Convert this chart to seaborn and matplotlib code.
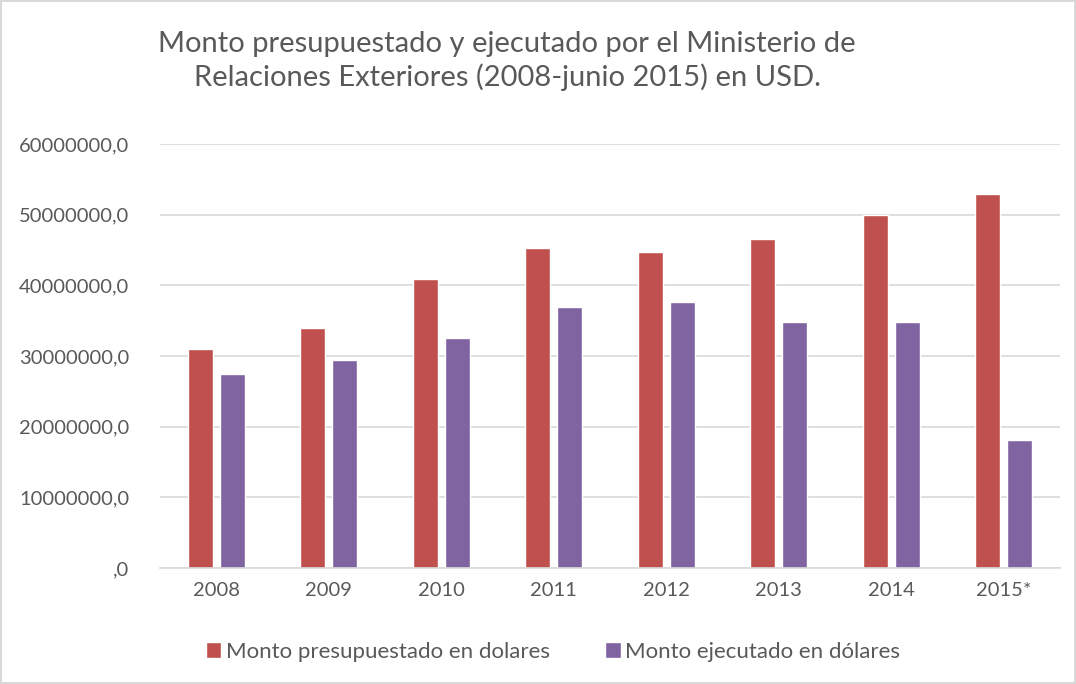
import matplotlib
matplotlib.use('Agg')
import matplotlib.pyplot as plt
from matplotlib.ticker import FuncFormatter
import seaborn as sns
import pandas as pd

# data
years = ["2008", "2009", "2010", "2011", "2012", "2013", "2014", "2015*"]
presupuestado = [31000000, 34000000, 40900000, 45300000, 44700000, 46600000, 49900000, 52900000]
ejecutado = [27400000, 29400000, 32500000, 36900000, 37700000, 34750000, 34750000, 18150000]
series_names = ["Monto presupuestado en dolares", "Monto ejecutado en dólares"]

df = pd.DataFrame({
    "year": years * 2,
    "monto": presupuestado + ejecutado,
    "serie": [series_names[0]] * len(years) + [series_names[1]] * len(years),
})

sns.set_style("white")
plt.rcParams['font.family'] = ['Lato', 'DejaVu Sans']
text_col = "#595959"

fig = plt.figure(figsize=(10.76, 6.84), dpi=100)
fig.patch.set_edgecolor("#D9D9D9")
fig.patch.set_linewidth(1.5)
ax = fig.add_axes([160 / 1076, 1 - 568 / 684, 900 / 1076, 424 / 684])

sns.barplot(
    data=df, x="year", y="monto", hue="serie",
    palette=["#C0504D", "#8064A2"],
    width=0.57, gap=0.22, ax=ax, saturation=1,
)

ax.set_ylim(0, 60000000)
ax.set_yticks(range(0, 60000001, 10000000))
ax.yaxis.set_major_formatter(FuncFormatter(lambda v, p: ",0" if v == 0 else f"{int(v)},0"))
ax.grid(axis="y", color="#D9D9D9", linewidth=1.2)
ax.set_axisbelow(True)
for s in ["top", "right", "left"]:
    ax.spines[s].set_visible(False)
ax.spines["bottom"].set_color("#D9D9D9")
ax.spines["bottom"].set_linewidth(1.2)
ax.tick_params(axis="both", length=0, labelsize=14.5, colors=text_col, pad=10)
ax.tick_params(axis="y", pad=22)
ax.set_xlabel("")
ax.set_ylabel("")

fig.text(507 / 1076, 1 - 61 / 684,
         "Monto presupuestado y ejecutado por el Ministerio de\nRelaciones Exteriores (2008-junio 2015) en USD.",
         ha="center", va="center", fontsize=21, color=text_col, linespacing=1.25)

ax.legend(loc="center", bbox_to_anchor=(553 / 1076, 1 - 652 / 684),
          bbox_transform=fig.transFigure, ncol=2, frameon=False,
          fontsize=16, labelcolor=text_col, handlelength=0.7, handleheight=0.7,
          handletextpad=0.2, columnspacing=2.5)

fig.savefig("out.png", dpi=100)
